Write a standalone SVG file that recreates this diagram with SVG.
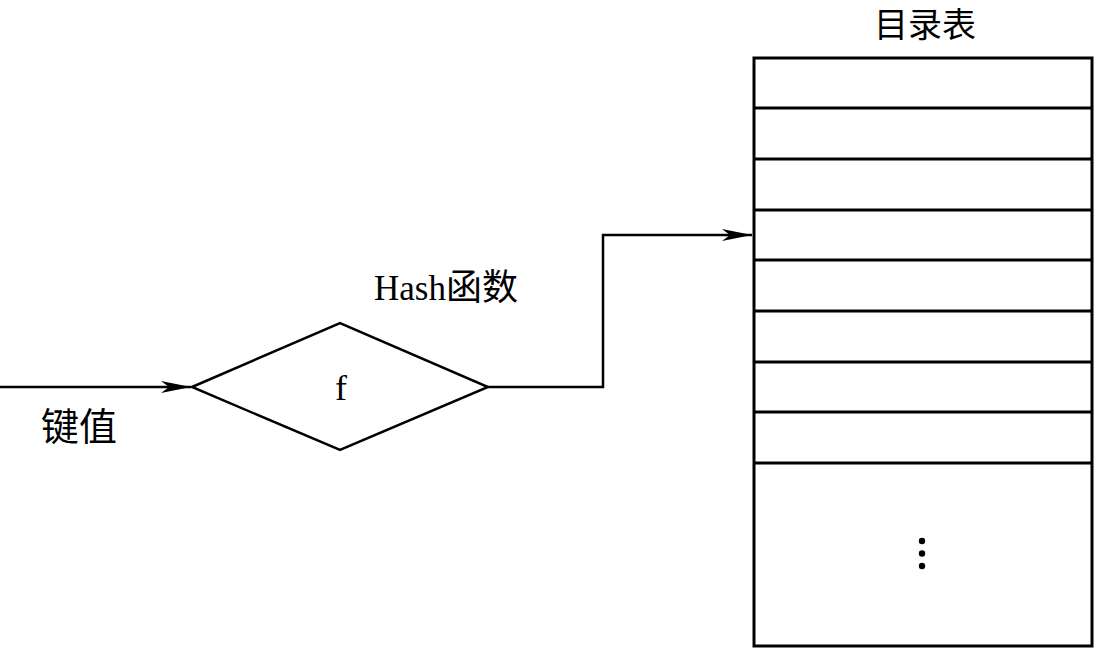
<svg xmlns="http://www.w3.org/2000/svg" width="1095" height="649" viewBox="0 0 1095 649">
<style>
.ln{fill:none;stroke:#000;stroke-width:2.5}
.tb{fill:none;stroke:#000;stroke-width:3}
.zh{font-family:"Noto Sans CJK SC","Liberation Serif",serif;fill:#000}
.en{font-family:"Liberation Serif","Noto Sans CJK SC",serif;fill:#000}
</style>
<defs>
<marker id="arr" viewBox="0 0 30 12" refX="30" refY="6" markerWidth="30" markerHeight="12" markerUnits="userSpaceOnUse" orient="auto">
<path d="M0,0 L30,6 L0,12 L8,6 Z" fill="#000"/>
</marker>
</defs>
<rect width="1095" height="649" fill="#fff"/>
<g id="connectors">
<path class="ln" d="M0,387 L191,387" marker-end="url(#arr)"/>
<path class="ln" d="M488,387 L603,387 L603,235 L752,235" marker-end="url(#arr)"/>
</g>
<g id="key">
<text class="zh" x="41" y="440" font-size="38">键值</text>
</g>
<g id="hash">
<polygon class="ln" stroke-width="3" points="192,387 340,323 488,387 340,450"/>
<text class="en" x="341" y="400" font-size="36" text-anchor="middle">f</text>
<text class="en" x="374" y="300" font-size="35">Hash<tspan class="zh" font-size="36">函数</tspan></text>
</g>
<g id="directory">
<text class="zh" x="925" y="37" font-size="34" text-anchor="middle">目录表</text>
<rect class="tb" x="754" y="58" width="338" height="588"/>
<path class="tb" d="M754,108H1092M754,159H1092M754,210H1092M754,260H1092M754,311H1092M754,362H1092M754,412H1092M754,463H1092"/>
<circle cx="922" cy="541" r="3.2" fill="#000"/>
<circle cx="922" cy="553.5" r="3.2" fill="#000"/>
<circle cx="922" cy="566" r="3.2" fill="#000"/>
</g>
</svg>
